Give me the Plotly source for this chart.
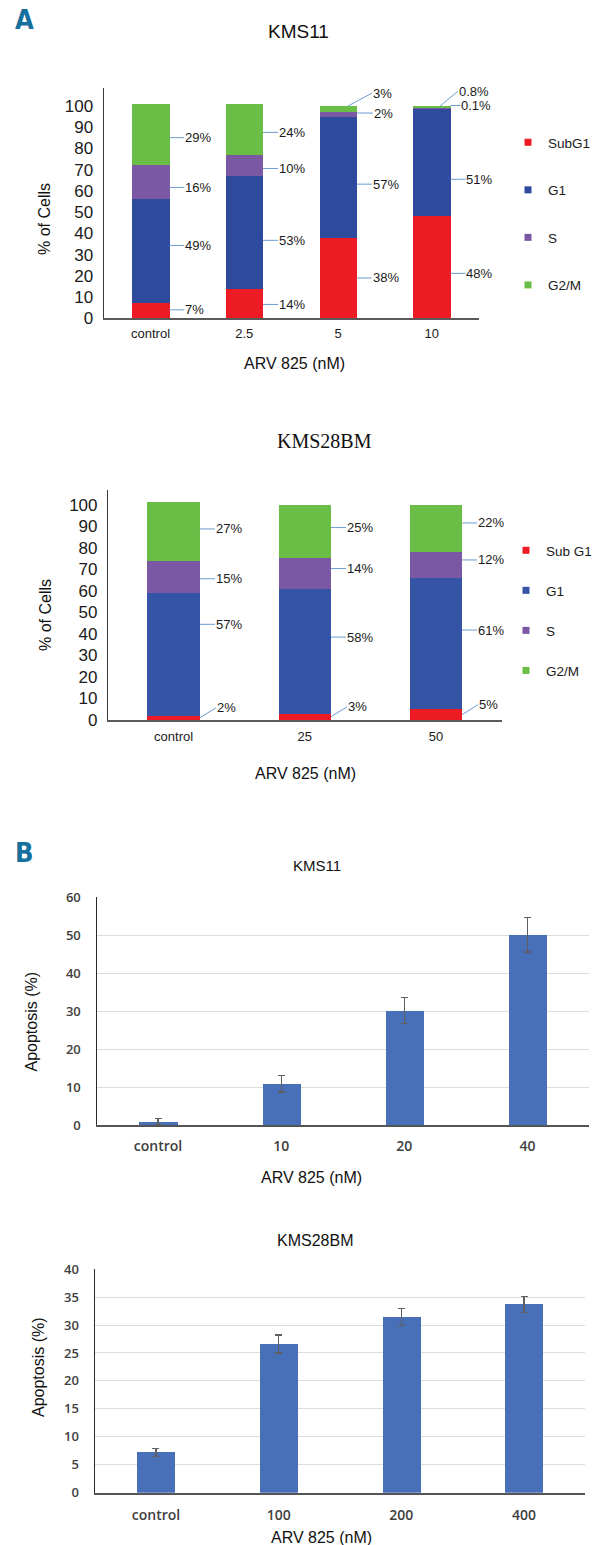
import plotly.graph_objects as go

W, H = 598, 1545

# ---------------- data ----------------
phases_kms11 = ["SubG1", "G1", "S", "G2/M"]
phases_kms28 = ["Sub G1", "G1", "S", "G2/M"]

kms11_doses = ["control", "2.5", "5", "10"]
kms11_subg1 = [7, 14, 38, 48]
kms11_g1 = [49, 53, 57, 51]
kms11_s = [16, 10, 2, 0.1]
kms11_g2m = [29, 24, 3, 0.8]

kms28_doses = ["control", "25", "50"]
kms28_subg1 = [2, 3, 5]
kms28_g1 = [57, 58, 61]
kms28_s = [15, 14, 12]
kms28_g2m = [27, 25, 22]

apo_kms11_doses = ["control", "10", "20", "40"]
apo_kms11_mean = [1.0, 10.9, 30.1, 50.1]
apo_kms11_sd = [0.8, 2.2, 3.4, 4.5]

apo_kms28_doses = ["control", "100", "200", "400"]
apo_kms28_mean = [7.2, 26.6, 31.4, 33.7]
apo_kms28_sd = [0.7, 1.6, 1.5, 1.4]

# ---------------- style ----------------
CONDENSED = "DejaVu Sans Condensed, Liberation Sans Narrow, sans-serif"
SANS = "Liberation Sans, Arial, sans-serif"
SERIF = "Liberation Serif, Times New Roman, serif"
CALI = "Open Sans, Lato, sans-serif"
phase_colors_a1 = ["#ED1C24", "#2E4A9D", "#7B58A4", "#6BBE45"]
phase_colors_a2 = ["#ED1C24", "#3554A5", "#7B58A4", "#6BBE45"]
LEADER = "#6C9BD2"
PANEL = "#176F9E"
BAR_B = "#4870B9"
INK = "#1a1a1a"


def px(x):
    return x / W


def py(y):
    return 1 - y / H


def xdom(left, right):
    return [px(left), px(right)]


def ydom(top, bottom):
    return [py(bottom), py(top)]


fig = go.Figure()

# ---------------- panel A: stacked cell-cycle bars ----------------
A_BAR_W = 0.4
a1_stacks = [kms11_subg1, kms11_g1, kms11_s, kms11_g2m]
a2_stacks = [kms28_subg1, kms28_g1, kms28_s, kms28_g2m]

for name, vals, col in zip(phases_kms11, a1_stacks, phase_colors_a1):
    fig.add_trace(go.Bar(x=kms11_doses, y=vals, name=name, marker_color=col,
                         marker_line_width=0, width=A_BAR_W, xaxis="x", yaxis="y",
                         showlegend=False))
for name, vals, col in zip(phases_kms28, a2_stacks, phase_colors_a2):
    fig.add_trace(go.Bar(x=kms28_doses, y=vals, name=name, marker_color=col,
                         marker_line_width=0, width=A_BAR_W, xaxis="x2", yaxis="y2",
                         showlegend=False))

# legend entries (small square swatches)
for name, col in zip(phases_kms11, phase_colors_a1):
    fig.add_trace(go.Scatter(x=[None], y=[None], mode="markers", name=name,
                             marker=dict(symbol="square", size=7, color=col),
                             xaxis="x", yaxis="y", legend="legend",
                             legendgroup="a1" + name))
for name, col in zip(phases_kms28, phase_colors_a2):
    fig.add_trace(go.Scatter(x=[None], y=[None], mode="markers", name=name,
                             marker=dict(symbol="square", size=7, color=col),
                             xaxis="x2", yaxis="y2", legend="legend2",
                             legendgroup="a2" + name))


def stack_labels(doses, stacks, xref, yref, shifts, overrides, ax_default=15):
    anns = []
    for i in range(len(doses)):
        base = 0
        for k, vals in enumerate(stacks):
            v = vals[i]
            mid = base + v / 2
            top = base + v
            o = overrides.get((k, i), {})
            xa = i + o.get("dx", A_BAR_W / 2)
            ya = top if o.get("at") == "top" else mid
            anns.append(dict(
                x=xa, y=ya, xref=xref, yref=yref,
                text=f"{v:g}%", showarrow=True, arrowhead=0, arrowwidth=1,
                arrowcolor=LEADER, axref="pixel", ayref="pixel",
                ax=o.get("ax", ax_default), ay=o.get("ay", 0),
                yshift=o.get("yshift", shifts[k][i]),
                xanchor="left", yanchor="middle", borderpad=0,
                font=dict(family=SANS, size=13, color=INK),
            ))
            base = top
    return anns


a1_shifts = [[1, -1, 0, -6], [6, -8, -7, -17], [-5, -3, 1.5, 2.6], [-3, -3, 0, 0]]
a1_over = {
    (2, 2): dict(ax=16),
    (2, 3): dict(ax=10),
    (3, 2): dict(at="top", dx=0.107, ax=24, ay=-13, yshift=0),
    (3, 3): dict(at="top", dx=0.087, ax=18, ay=-15, yshift=0),
}
a2_shifts = [[0, 0, 0], [30, 14, 13.5], [-2, 5, 5], [2.6, 4, 5.4]]
a2_over = {(0, i): dict(ax=16, ay=-10, yshift=0) for i in range(3)}

annotations = []
annotations += stack_labels(kms11_doses, a1_stacks, "x", "y", a1_shifts, a1_over)
annotations += stack_labels(kms28_doses, a2_stacks, "x2", "y2", a2_shifts, a2_over)

# ---------------- panel B: apoptosis bars ----------------
B_BAR_W = 0.31
fig.add_trace(go.Bar(x=apo_kms11_doses, y=apo_kms11_mean, marker_color=BAR_B,
                     marker_line_width=0, width=B_BAR_W, xaxis="x3", yaxis="y3",
                     showlegend=False,
                     error_y=dict(type="data", array=apo_kms11_sd, color="#5f5f5f",
                                  thickness=1.3, width=3.5)))
fig.add_trace(go.Bar(x=apo_kms28_doses, y=apo_kms28_mean, marker_color=BAR_B,
                     marker_line_width=0, width=B_BAR_W, xaxis="x4", yaxis="y4",
                     showlegend=False,
                     error_y=dict(type="data", array=apo_kms28_sd, color="#5f5f5f",
                                  thickness=1.3, width=3.5)))


def text_ann(text, x, y, size, family=SANS, angle=0, color="#111111", weight=None,
             xanchor="center"):
    f = dict(family=family, size=size, color=color)
    if weight:
        f["weight"] = weight
    return dict(text=text, x=px(x), y=py(y), xref="paper", yref="paper",
                showarrow=False, xanchor=xanchor, yanchor="middle",
                textangle=angle, font=f)


annotations += [
    text_ann("A", 13, 20, 27, family=CONDENSED, color=PANEL, weight="bold", xanchor="left"),
    text_ann("B", 13, 852, 27, family=CONDENSED, color=PANEL, weight="bold", xanchor="left"),
    text_ann("KMS11", 298.5, 32, 19),
    text_ann("KMS28BM", 324, 441, 20, family=SERIF),
    text_ann("KMS11", 316.5, 865, 15),
    text_ann("KMS28BM", 315, 1240, 16),
    text_ann("ARV 825 (nM)", 294, 364, 16),
    text_ann("ARV 825 (nM)", 305, 773, 16),
    text_ann("ARV 825 (nM)", 311.5, 1177, 16),
    text_ann("ARV 825 (nM)", 321.5, 1537, 16),
    text_ann("% of Cells", 45, 219, 16, angle=-90),
    text_ann("% of Cells", 45, 615, 16, angle=-90),
    text_ann("Apoptosis (%)", 30.5, 1022, 16, angle=-90),
    text_ann("Apoptosis (%)", 38, 1367, 16, angle=-90),
]

# ---------------- axes ----------------
a_x = dict(showline=True, linecolor="#5a5a5a", linewidth=1.5, ticks="",
           showgrid=False, zeroline=False, type="category",
           tickfont=dict(family=SANS, size=13, color=INK))
a_y = dict(showline=True, linecolor="#3a3a3a", linewidth=1.2, ticks="",
           showgrid=False, zeroline=False, dtick=10, tick0=0,
           tickfont=dict(family=SANS, size=17, color=INK),
           ticklabelstandoff=6)
b_x = dict(showline=True, linecolor="#555555", linewidth=1.5, ticks="",
           showgrid=False, zeroline=False, type="category",
           tickfont=dict(family=CALI, size=14, color="#404040", weight=600))
b_y = dict(showline=True, linecolor="#2a2a2a", linewidth=1.2, ticks="",
           showgrid=True, gridcolor="#dcdcdc", gridwidth=1, zeroline=False,
           tickfont=dict(family=CALI, size=13, color="#404040", weight=600),
           ticklabelstandoff=12)

fig.update_layout(
    width=W, height=H, margin=dict(l=0, r=0, t=0, b=0, autoexpand=False),
    paper_bgcolor="white", plot_bgcolor="white",
    barmode="stack", bargap=0,
    xaxis=dict(a_x, domain=xdom(103.7, 478.6), range=[-0.5, 3.5], anchor="y",
               ticklabelstandoff=2),
    yaxis=dict(a_y, domain=ydom(88, 318.3), range=[0, 108.5], anchor="x"),
    xaxis2=dict(a_x, domain=xdom(108, 501.5), range=[-0.5, 2.5], anchor="y2",
                ticklabelstandoff=4),
    yaxis2=dict(a_y, domain=ydom(490, 720), range=[0, 106.8], anchor="x2"),
    xaxis3=dict(b_x, domain=xdom(96.5, 589), range=[-0.5, 3.5], anchor="y3",
                ticklabelstandoff=7),
    yaxis3=dict(b_y, domain=ydom(896.7, 1125), range=[0, 60.14], dtick=10, anchor="x3"),
    xaxis4=dict(b_x, domain=xdom(94.6, 585.4), range=[-0.5, 3.5], anchor="y4",
                ticklabelstandoff=9),
    yaxis4=dict(b_y, domain=ydom(1269, 1492.7), range=[0, 40.02], dtick=5, anchor="x4"),
    legend=dict(x=px(508), y=py(127), xanchor="left", yanchor="top",
                font=dict(family=SANS, size=13.5, color=INK),
                tracegroupgap=27, bgcolor="rgba(0,0,0,0)", itemwidth=30),
    legend2=dict(x=px(506), y=py(535), xanchor="left", yanchor="top",
                 font=dict(family=SANS, size=13.5, color=INK),
                 tracegroupgap=19.5, bgcolor="rgba(0,0,0,0)", itemwidth=30),
    annotations=annotations,
)

fig.write_html("out.html")
